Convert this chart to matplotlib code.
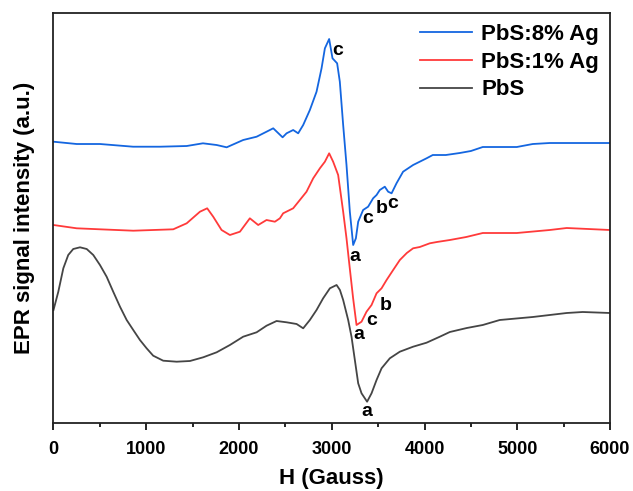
import numpy as np
import matplotlib
matplotlib.use("Agg")
import matplotlib.pyplot as plt
from matplotlib.ticker import MultipleLocator

plt.rcParams['font.family'] = ['Liberation Sans', 'DejaVu Sans']
plt.rcParams['font.weight'] = 'bold'

# field (Gauss) and signal (a.u., stacked offsets) for each sample
h_ag8 = [0, 250, 501, 858, 1148, 1436, 1611, 1759, 1867, 2045, 2190, 2297, 2369,
         2470, 2513, 2584, 2638, 2692, 2764, 2836, 2890, 2926, 2972, 3008, 3058,
         3087, 3123, 3159, 3195, 3231, 3260, 3285, 3338, 3392, 3446, 3483, 3518,
         3572, 3608, 3645, 3698, 3769, 3877, 4022, 4089, 4230, 4380, 4500, 4628,
         4800, 4995, 5167, 5350, 5533, 5750, 6000]
s_ag8 = [281.3, 279, 279, 276.3, 276.3, 277, 279.7, 278, 275.7, 283, 286.3, 291.3, 294.7,
         285.7, 289.7, 293, 289.7, 298, 313, 331.3, 354.7, 374.7, 384, 364.7, 359.7,
         341.3, 298, 258, 211.3, 178, 184.7, 201.3, 213, 216.3, 224.7, 228, 233,
         236.3, 231.3, 229.7, 239.7, 251.3, 258, 264.7, 268, 268, 270, 272, 276,
         276, 276, 279, 280, 280, 280, 280]

h_ag1 = [0, 250, 501, 860, 1291, 1436, 1579, 1657, 1722, 1812, 1902, 2010, 2117,
         2207, 2297, 2387, 2441, 2476, 2584, 2656, 2728, 2800, 2872, 2926, 2972,
         3015, 3069, 3123, 3159, 3188, 3230, 3267, 3321, 3375, 3429, 3483, 3537,
         3591, 3662, 3734, 3809, 3877, 3949, 4057, 4133, 4273, 4450, 4628, 4995,
         5350, 5533, 6000]
s_ag1 = [198, 194.7, 193.7, 192.3, 193.7, 199.7, 211.3, 214.7, 206.3, 193, 188, 191.3, 204.7,
         198, 203, 201.3, 204.7, 209.7, 214.7, 223, 231.3, 244.7, 254.7, 261.3, 269.7,
         261.3, 248, 211.3, 184.7, 160, 125, 98, 101.3, 111.3, 118, 129.7, 134.7,
         143, 153, 163, 170, 174.7, 176, 179.7, 181, 183, 186, 190, 190,
         193, 195, 193]

h_pbs = [0, 52, 106, 159, 213, 286, 358, 429, 501, 573, 644, 717, 789, 860, 932,
         1004, 1075, 1183, 1328, 1471, 1614, 1759, 1902, 2045, 2190, 2297, 2405,
         2513, 2621, 2692, 2764, 2836, 2907, 2980, 3052, 3088, 3123, 3177, 3213,
         3249, 3285, 3321, 3381, 3429, 3483, 3537, 3626, 3734, 3877, 4022, 4165,
         4273, 4456, 4628, 4811, 5167, 5533, 5705, 6000]
s_pbs = [113, 131.3, 154.7, 168, 174, 175.7, 174, 168, 158, 146.3, 131.3, 116.3, 103, 93, 83,
         74.7, 67.3, 62.3, 61.3, 62, 65.7, 70.7, 78, 86.3, 90.7, 97.3, 102,
         100.7, 99, 94.7, 103, 113, 124.7, 134.7, 138, 133, 123, 103, 86.3,
         63, 39.7, 29.7, 21.3, 29.7, 43, 54.7, 64.7, 71.3, 76.3, 80.3, 86.3,
         91, 95, 98, 103, 106, 110, 111, 110]

# peak labels: (letter, field, signal)
marks = [('c', 3066, 373), ('a', 3249, 167), ('c', 3389, 205), ('b', 3540, 215),
         ('c', 3658, 220), ('a', 3292, 88), ('c', 3432, 103), ('b', 3583, 118),
         ('a', 3378, 11)]

fig = plt.figure(figsize=(6.33, 4.91), dpi=100)
ax = fig.add_axes([0.0845, 0.1385, 0.8792, 0.835])

ax.plot(h_ag8, s_ag8, color='#1466e0', lw=1.3, label='PbS:8% Ag')
ax.plot(h_ag1, s_ag1, color='#ff3a3a', lw=1.3, label='PbS:1% Ag')
ax.plot(h_pbs, s_pbs, color='#454545', lw=1.3, label='PbS')

for letter, hx, sy in marks:
    ax.text(hx, sy, letter, ha='center', va='center', fontsize=14, fontweight='bold')

ax.set_xlim(0, 6000)
ax.set_ylim(0, 410)
ax.xaxis.set_major_locator(MultipleLocator(1000))
ax.xaxis.set_minor_locator(MultipleLocator(500))
ax.tick_params(axis='x', which='major', direction='out', length=5, width=1.2,
               labelsize=13, pad=8)
ax.tick_params(axis='x', which='minor', direction='out', length=3, width=1.2)
ax.set_yticks([])
for lab in ax.get_xticklabels():
    lab.set_fontweight('bold')
for sp in ax.spines.values():
    sp.set_linewidth(1.3)
    sp.set_color('#222222')

ax.set_xlabel('H (Gauss)', fontsize=16, fontweight='bold', labelpad=7)
ax.set_ylabel('EPR signal intensity (a.u.)', fontsize=16, fontweight='bold', labelpad=13)

ax.legend(loc='upper right', frameon=False, handlelength=2.35,
          handletextpad=0.4, labelspacing=0.3, borderaxespad=0.1,
          prop={'weight': 'bold', 'size': 16})

fig.savefig('out.png', dpi=100)
